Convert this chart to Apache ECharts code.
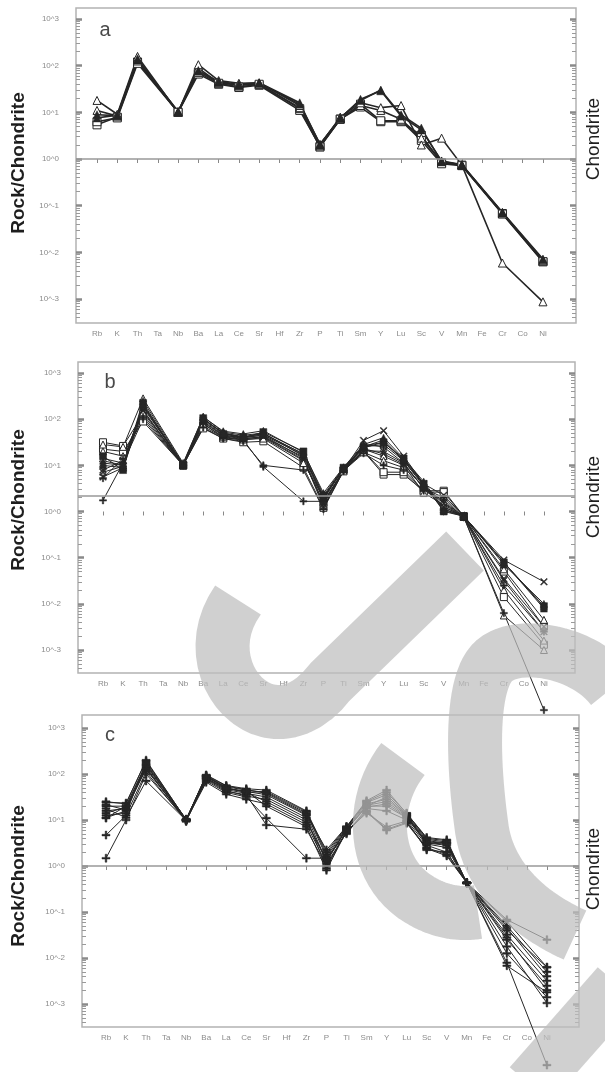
<!DOCTYPE html>
<html>
<head>
<meta charset="utf-8">
<script src="https://cdn.jsdelivr.net/npm/echarts@6/dist/echarts.min.js"></script>
<style>
html,body{margin:0;padding:0;background:#fff;}
#chart{width:605px;height:1072px;}
</style>
</head>
<body>
<div id="chart"></div>
<script>
// ---------- categories & tick labels ----------
const elements = ['Rb','K','Th','Ta','Nb','Ba','La','Ce','Sr','Hf','Zr','P','Ti','Sm','Y','Lu','Sc','V','Mn','Fe','Cr','Co','Ni'];
const decadeTicks = [-3,-2,-1,0,1,2,3];

// ---------- panel a (Rock/Chondrite) ----------
const a1 = [7.6, 8.7, 141, null, 10.2, 76, 46, 40, 43, null, 16, 2.0, 7.6, 18, 30, 8.9, 4.6, 0.87, 0.74, null, 0.069, null, 0.0069];
const a2 = [18, 9.1, 158, null, 10, 105, 48, 42, 43, null, 14, 2.0, 7.9, 16, 12.6, 14, 2.0, 2.8, 0.74, null, 0.0059, null, 0.00087];
const a3 = [11, 8.3, 126, null, 10, 89, 43, 38, 40, null, 12.6, 1.9, 7.2, 14, 11, 7.1, 2.8, 0.89, 0.74, null, 0.071, null, 0.0066];
const a4 = [5.4, 7.9, 120, null, 10, 66, 40, 34, 38, null, 11, 1.86, 7.2, 13, 6.3, 6.3, 3.2, 0.83, 0.74, null, 0.068, null, 0.0063];
const a5 = [8.9, 8.5, 132, null, 10.5, 79, 44, 38, 42, null, 15, 2.1, 7.4, 19, 29, 8.3, 4.2, 0.91, 0.76, null, 0.072, null, 0.0072];
const a6 = [6.3, 7.6, 112, null, 10, 71, 42, 35, 40, null, 12, 1.8, 7.1, 15, 6.6, 6.6, 2.5, 0.79, 0.72, null, 0.066, null, 0.0063];

// ---------- panel b ----------
const b1  = [12.6, 10, 200, null, 10, 100, 50, 41.7, 47.9, null, 17.8, 2.0, 8.3, 25.1, 35.5, 12.6, 3.55, 1.12, 0.79, null, 0.079, null, 0.0079];
const b2  = [28.2, 25.1, 282, null, 11.2, 112, 52.5, 44.7, 50.1, null, 15.8, 1.78, 8.9, 22.4, 15.8, 10, 2.51, 1.41, 0.76, null, 0.0056, null, 0.001];
const b3  = [31.6, 26.3, 126, null, 10, 70.8, 39.8, 35.5, 39.8, null, 12.6, 1.58, 7.9, 20, 6.3, 6.3, 2.82, 2.82, 0.79, null, 0.05, null, 0.0032];
const b4  = [1.74, 11.2, 100, null, 10, 79.4, 39.8, 35.5, 9.3, null, 1.66, 1.66, 7.6, 28.2, 25.1, 11.2, 3.16, 2.0, 0.76, null, 0.0063, null, 0.00005];
const b5  = [5.6, 8.9, 158, null, 10, 89, 44.7, 39.8, 44.7, null, 14.1, 1.26, 7.9, 34.7, 56.2, 15.8, 3.98, 2.24, 0.79, null, 0.089, null, 0.03];
const b6  = [15.8, 7.9, 224, null, 10, 105, 47.9, 39.8, 52.5, null, 20, 2.24, 8.9, 24, 31.6, 14.1, 3.98, 1.0, 0.79, null, 0.079, null, 0.0089];
const b7  = [7.9, 12.6, 178, null, 10.5, 95.5, 45.7, 38, 41.7, null, 15.1, 1.41, 7.9, 20.9, 20, 11.2, 3.16, 1.26, 0.78, null, 0.032, null, 0.0025];
const b8  = [20, 15.8, 141, null, 10, 79.4, 41.7, 36.3, 38, null, 11.2, 2.0, 8.3, 19.1, 12.6, 8.9, 3.55, 1.58, 0.79, null, 0.02, null, 0.0016];
const b9  = [5.25, 14.1, 112, null, 10, 66.1, 38, 33.1, 10, null, 7.9, 1.12, 7.6, 18.2, 10, 7.9, 2.82, 1.78, 0.74, null, 0.025, null, 0.0025];
const b10 = [10, 8.9, 251, null, 10.7, 112, 55, 47.9, 56.2, null, 19.1, 2.51, 9.1, 28.2, 39.8, 14.1, 4.47, 1.12, 0.81, null, 0.071, null, 0.01];
const b11 = [22.4, 20, 89, null, 10, 63.1, 38, 31.6, 33.1, null, 8.9, 1.2, 7.4, 20, 7.1, 7.1, 2.63, 2.63, 0.78, null, 0.014, null, 0.0013];
const b12 = [14.1, 11.2, 191, null, 10, 100, 50, 39.8, 45.7, null, 16.6, 1.91, 8.5, 25.1, 28.2, 12.6, 3.8, 1.26, 0.79, null, 0.056, null, 0.0045];
const b13 = [7.1, 9.5, 151, null, 10, 85, 43.7, 37.2, 41.7, null, 13.2, 1.51, 7.9, 22.9, 17.8, 10.5, 3.31, 1.51, 0.76, null, 0.035, null, 0.0032];
const b14 = [11.2, 10, 209, null, 10.5, 102, 49, 40.7, 49, null, 17.4, 2.09, 8.7, 26.3, 31.6, 13.2, 3.98, 1.05, 0.79, null, 0.079, null, 0.0085];

// ---------- panel c ----------
const c1  = [25.1, 22.4, 200, null, 10, 95.5, 56.2, 47.9, 44.7, null, 15.8, 2.0, 7.1, 25.1, 39.8, 14.1, 3.98, 3.55, 0.43, null, 0.063, null, 0.0063];
const c2  = [20, 20, 158, null, 10.5, 89, 52.5, 44.7, 39.8, null, 14.1, 1.58, 6.6, 22.4, 28.2, 12.6, 3.55, 3.16, 0.43, null, 0.05, null, 0.005];
const c3  = [15.8, 17.8, 126, null, 10, 79.4, 47.9, 41.7, 35.5, null, 12.6, 1.26, 6.3, 20, 20, 11.2, 3.16, 2.82, 0.43, null, 0.045, null, 0.004];
const c4  = [1.48, 10, 100, null, 10, 70.8, 39.8, 31.6, 11, null, 1.48, 1.48, 5.0, 17.8, 15.8, 10, 2.82, 2.0, 0.43, null, 0.0079, null, 0.000047];
const c5  = [4.7, 12.6, 112, null, 9.5, 75.9, 41.7, 35.5, 7.8, null, 6.3, 1.0, 5.6, 15.8, 6.3, 8.9, 2.51, 1.78, 0.43, null, 0.025, null, 0.0025];
const c6  = [12.6, 14.1, 178, null, 10, 91.2, 50.1, 39.8, 41.7, null, 15.1, 1.78, 6.9, 24, 35.5, 13.2, 3.8, 3.31, 0.43, null, 0.068, null, 0.025];
const c7  = [11.2, 15.8, 141, null, 9.3, 83.2, 45.7, 38, 31.6, null, 11.2, 0.89, 6.0, 20.9, 25.1, 12, 3.31, 3.16, 0.43, null, 0.04, null, 0.0063];
const c8  = [24, 23.4, 191, null, 10.2, 93.3, 55, 45.7, 38, null, 13.2, 2.24, 7.2, 26.3, 44.7, 13.8, 4.17, 3.72, 0.43, null, 0.032, null, 0.0032];
const c9  = [17.8, 11.2, 70.8, null, 9.8, 66.1, 36.3, 28.2, 22.4, null, 7.9, 1.12, 5.25, 15.1, 6.0, 8.5, 2.4, 1.66, 0.43, null, 0.0126, null, 0.0014];
const c10 = [14.1, 19.1, 132, null, 10, 79.4, 43.7, 33.1, 28.2, null, 10, 1.26, 6.3, 19.1, 22.4, 11.5, 3.02, 2.51, 0.43, null, 0.0178, null, 0.00105];
const c11 = [21.4, 16.6, 151, null, 10, 85.1, 50.1, 39.8, 25.1, null, 8.9, 1.41, 6.3, 20, 31.6, 12.6, 3.16, 3.02, 0.43, null, 0.028, null, 0.002];
const c12 = [11, 20, 166, null, 10.2, 89.1, 47.9, 42.7, 20, null, 7.1, 0.81, 5.75, 14.1, 7.1, 9.5, 2.24, 2.0, 0.43, null, 0.0068, null, 0.0018];

// reference (normalisation) line values
const refLevels = [1, 2.24, 1];

// ---------- styles ----------
const PLUS = 'path://M4,0H6V4H10V6H6V10H4V6H0V4H4Z';
const CROSS = 'path://M1,0L5,4L9,0L10,1L6,5L10,9L9,10L5,6L1,10L0,9L4,5L0,1Z';
const INK = '#262626';
const FONT = 'Liberation Sans, Arial, sans-serif';

const panels = [
  { letter: 'a', grid: {left: 76, top: 8, width: 500, height: 315}, x: [-1.036, 23.63], y: [-3.514, 3.236],
    series: [
      {d: a4, sym: 'rect', open: true}, {d: a6, sym: 'rect', open: true},
      {d: a3, sym: 'triangle', open: true}, {d: a2, sym: 'triangle', open: true},
      {d: a5, sym: 'triangle', open: false}, {d: a1, sym: 'triangle', open: false}],
    lw: 1.6, ss: 8, letterPos: [105, 30], leftY: 163, rightY: 139 },
  { letter: 'b', grid: {left: 78, top: 362, width: 497, height: 311}, x: [-1.247, 23.55], y: [-3.498, 3.238],
    series: [
      {d: b3, sym: 'rect', open: true}, {d: b11, sym: 'rect', open: true}, {d: b2, sym: 'triangle', open: true},
      {d: b8, sym: 'triangle', open: true}, {d: b12, sym: 'triangle', open: true},
      {d: b4, sym: PLUS, open: false}, {d: b9, sym: PLUS, open: false}, {d: b5, sym: CROSS, open: false},
      {d: b7, sym: CROSS, open: false}, {d: b13, sym: CROSS, open: false}, {d: b6, sym: 'rect', open: false},
      {d: b1, sym: 'triangle', open: false}, {d: b10, sym: 'triangle', open: false}, {d: b14, sym: 'triangle', open: false}],
    lw: 1, ss: 7, letterPos: [110, 382], leftY: 500, rightY: 497 },
  { letter: 'c', grid: {left: 82, top: 715, width: 497, height: 312}, x: [-1.197, 23.6], y: [-3.5, 3.283],
    series: [c1, c2, c3, c4, c5, c6, c7, c8, c9, c10, c11, c12].map(d => ({d: d, sym: PLUS, open: false})),
    lw: 1, ss: 8, letterPos: [110, 735], leftY: 876, rightY: 869 }
];

const grids = [], xAxes = [], yAxes = [], series = [], graphics = [];

panels.forEach((p, pi) => {
  grids.push(Object.assign({show: true, borderColor: '#b3b3b3', borderWidth: 1.5, backgroundColor: 'transparent'}, p.grid));
  xAxes.push({
    gridIndex: pi, type: 'value', min: p.x[0], max: p.x[1], position: 'bottom',
    axisLine: {show: false}, splitLine: {show: false},
    axisTick: {show: true, inside: false, length: 4, customValues: elements.map((e, i) => i), lineStyle: {color: '#888', width: 1}},
    axisLabel: {show: true, customValues: elements.map((e, i) => i), formatter: v => elements[Math.round(v)] || '',
      fontSize: 8, color: '#8c8c8c', margin: 7, fontFamily: FONT, hideOverlap: false}
  });
  const base = yAxes.length;
  yAxes.push({gridIndex: pi, type: 'log', logBase: 10, min: Math.pow(10, p.y[0]), max: Math.pow(10, p.y[1]),
    position: 'left', show: false, splitLine: {show: false}});
  const minors = [];
  for (let k = -4; k <= 3; k++) for (let m = 2; m <= 9; m++) {
    const v = k + Math.log10(m);
    if (v > p.y[0] && v < p.y[1]) minors.push(v);
  }
  ['left', 'right'].forEach(pos => {
    yAxes.push({gridIndex: pi, type: 'value', min: p.y[0], max: p.y[1], position: pos,
      axisLine: {show: false}, splitLine: {show: false},
      axisTick: {show: true, inside: true, length: 6, customValues: decadeTicks, lineStyle: {color: '#8a8a8a', width: 2.5}},
      axisLabel: pos === 'left' ? {show: true, customValues: decadeTicks, formatter: v => '10^' + v,
        fontSize: 8, color: '#8c8c8c', margin: 17, fontFamily: FONT} : {show: false}
    });
    yAxes.push({gridIndex: pi, type: 'value', min: p.y[0], max: p.y[1], position: pos,
      axisLine: {show: false}, splitLine: {show: false},
      axisTick: {show: true, inside: true, length: 4, customValues: minors, lineStyle: {color: '#9a9a9a', width: 1}},
      axisLabel: {show: false}
    });
  });
  p.series.forEach((s, si) => {
    const ser = {
      type: 'line', xAxisIndex: pi, yAxisIndex: base, clip: false, silent: true,
      data: s.d.map((v, i) => [i, v]).filter(pt => pt[1] !== null),
      symbol: s.sym, symbolSize: p.ss, showAllSymbol: true,
      lineStyle: {color: INK, width: p.lw},
      itemStyle: s.open ? {color: '#fff', borderColor: INK, borderWidth: 1} : {color: INK, borderColor: INK, borderWidth: 0.5},
      z: 3
    };
    if (si === 0) {
      ser.markLine = {silent: true, symbol: 'none', label: {show: false},
        lineStyle: {color: '#999', width: 1.5, type: 'solid'}, data: [{yAxis: refLevels[pi]}]};
    }
    series.push(ser);
  });
  graphics.push({type: 'text', x: p.letterPos[0], y: p.letterPos[1], z: 50,
    style: {text: p.letter, font: '20px ' + FONT, fill: '#4a4a4a', textAlign: 'center', textVerticalAlign: 'middle'}});
  graphics.push({type: 'text', x: 19, y: p.leftY, rotation: Math.PI / 2, z: 50,
    style: {text: 'Rock/Chondrite', font: 'bold 19px ' + FONT, fill: '#1e1e1e', textAlign: 'center', textVerticalAlign: 'middle'}});
  graphics.push({type: 'text', x: 594, y: p.rightY, rotation: Math.PI / 2, z: 50,
    style: {text: 'Chondrite', font: '19px ' + FONT, fill: '#1e1e1e', textAlign: 'center', textVerticalAlign: 'middle'}});
});

// watermark overlay (grey strokes), sampled from cubic curves
function strokePoints(segs) {
  const pts = [segs[0][0]];
  segs.forEach(s => {
    if (s.length === 2) { pts.push(s[1]); return; }
    const [p0, c1, c2, p1] = s;
    for (let i = 1; i <= 24; i++) {
      const t = i / 24, u = 1 - t;
      pts.push([u*u*u*p0[0] + 3*u*u*t*c1[0] + 3*u*t*t*c2[0] + t*t*t*p1[0],
                u*u*u*p0[1] + 3*u*u*t*c1[1] + 3*u*t*t*c2[1] + t*t*t*p1[1]]);
    }
  });
  return pts;
}
const WM = 'rgba(190,190,190,0.72)';
const wmStrokes = [
  [[[238,600],[188,670],[270,760],[330,682]], [[330,682],[465,551]]],
  [[[403,759],[368,803],[372,872],[420,900]], [[420,900],[440,912],[460,915],[478,912]]],
  [[[612,688],[585,652],[520,640],[495,660]], [[495,660],[470,680],[472,760],[482,830]], [[482,830],[490,880],[530,915],[575,935]]],
  [[[530,1085],[618,985]]]
];
wmStrokes.forEach(segs => graphics.push({type: 'polyline', z: 100, silent: true,
  shape: {points: strokePoints(segs)}, style: {fill: null, stroke: WM, lineWidth: 54, lineCap: 'butt', lineJoin: 'round'}}));

const chart = echarts.init(document.getElementById('chart'), null, {renderer: 'canvas'});
chart.setOption({
  animation: false,
  backgroundColor: '#fff',
  grid: grids, xAxis: xAxes, yAxis: yAxes, series: series, graphic: graphics
});
</script>
</body>
</html>
